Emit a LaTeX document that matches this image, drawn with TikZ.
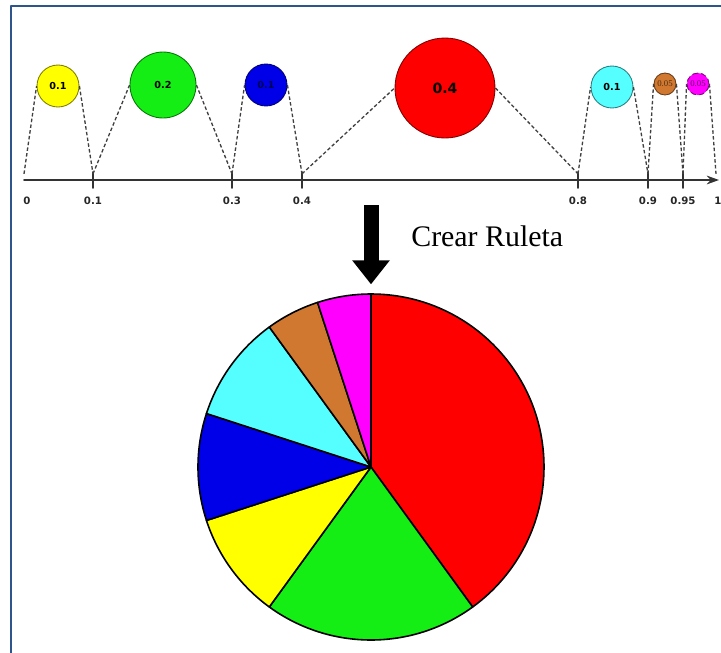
\documentclass[tikz,border=0pt]{standalone}
\usepackage{fontspec}
\setmainfont{Liberation Serif}
\newfontfamily\marcafont{DejaVu Sans}
\usetikzlibrary{arrows.meta}
\definecolor{marco}{RGB}{46,84,140}
\definecolor{rojo}{RGB}{255,0,0}
\definecolor{verde}{RGB}{20,238,20}
\definecolor{amarillo}{RGB}{255,255,0}
\definecolor{azul}{RGB}{0,0,232}
\definecolor{cian}{RGB}{85,255,255}
\definecolor{cafe}{RGB}{208,120,48}
\definecolor{rosa}{RGB}{255,0,255}

\begin{document}
\begin{tikzpicture}[x=0.02cm,y=-0.02cm,line cap=round,line join=round,
    bola/.style={circle,draw=#1!50!black,fill=#1,inner sep=0pt,line width=0.5pt,
      font=\marcafont\bfseries\fontsize{5.5}{6}\selectfont},
    guia/.style={dash pattern=on 2pt off 1.3pt,line cap=butt,draw=black!75,line width=0.75pt},
    marca/.style={font=\marcafont\bfseries\fontsize{5.8}{6}\selectfont,text=black!85,inner sep=0pt}]
  \useasboundingbox (0,0) rectangle (721,653);
  \draw[marco,line width=1.4pt,line cap=butt] (11,653) -- (11,6) -- (721,6);

  % eje de 0 a 1 con los cortes acumulados
  \draw (24,180) coordinate (p0) (93,180) coordinate (p1) (232,180) coordinate (p3)
    (302,180) coordinate (p4) (578,180) coordinate (p8) (648,180) coordinate (p9)
    (683,180) coordinate (p95) (716,180) coordinate (p10) (719,180) coordinate (fin);
  \draw[black!80,line width=0.9pt,-{Stealth[length=7pt,width=5pt]}] (p0) -- (fin);
  \foreach \p/\t in {p1/0.1,p3/0.3,p4/0.4,p8/0.8,p9/0.9,p95/0.95}
    \draw[black!80,line width=1pt] (\p) +(0,-8) -- +(0,8) +(0,21) node[marca] {\t};
  \path (p0) +(3,21) node[marca] (l0) {0} (p10) +(2,21) node[marca] (l10) {1};

  % probabilidades
  \node[bola=amarillo,minimum size=0.84cm] (c1) at (58,86) {0.1};
  \node[bola=verde,minimum size=1.32cm] (c2) at (163,85) {0.2};
  \node[bola=azul,minimum size=0.84cm,text=azul!35!black] (c3) at (266,85) {0.1};
  \node[bola=rojo,minimum size=2cm,font=\marcafont\bfseries\fontsize{8}{9}\selectfont] (c4) at (445,88) {0.4};
  \node[bola=cian,minimum size=0.84cm] (c5) at (612,87) {0.1};
  \node[bola=cafe,minimum size=0.44cm,font=\fontsize{5}{5}\selectfont,text=cafe!40!black] (c6) at (665,84) {0.05};
  \node[bola=rosa,minimum size=0.44cm,densely dashed,font=\fontsize{5}{5}\selectfont,text=rosa!40!black] (c7) at (698,84) {0.05};
  \foreach \c/\a/\b in {c1/p0/p1,c2/p1/p3,c3/p3/p4,c4/p4/p8,c5/p8/p9,c6/p9/p95,c7/p95/p10}
    \draw[guia] ([yshift=3.5pt]\a) -- (\c.west) (\c.east) -- ([yshift=3.5pt]\b);

  % flecha hacia la ruleta
  \coordinate (O) at (371,467);
  \coordinate (flecha) at (371,205);
  \coordinate (cima) at (371,294);
  \draw[line width=0.3cm,line cap=butt,shorten >=5.5pt,
    -{Triangle[width=0.72cm,length=0.48cm]}] (flecha) -- (cima);
  \node[anchor=base west,font=\fontsize{17}{20}\selectfont,inner sep=0pt] (rotulo) at (411,246) {Crear Ruleta};

  % ruleta
  \begin{scope}[shift={(O)},yscale=-1]
    \foreach \a/\b/\c in {90/-54/rojo,-54/-126/verde,-126/-162/amarillo,-162/-198/azul,
        -198/-234/cian,-234/-252/cafe,-252/-270/rosa}
      \filldraw[fill=\c,draw=black,line width=0.9pt] (0,0) -- (\a:173)
        arc[start angle=\a,end angle=\b,radius=173] -- cycle;
  \end{scope}
\end{tikzpicture}
\end{document}
